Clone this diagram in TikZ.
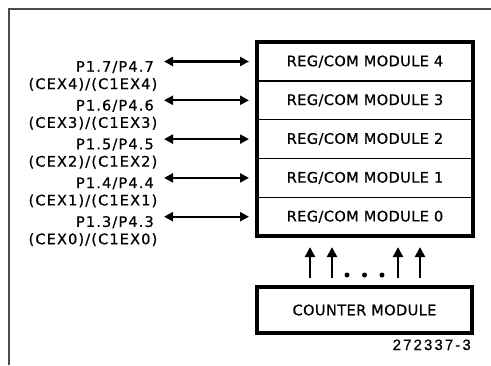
\documentclass[tikz,border=0pt]{standalone}
\usepackage{fontspec}
\setmainfont{DejaVu Sans}
\newfontfamily\modfont{DejaVu Sans}[LetterSpace=3,FakeBold=0.7]
\newfontfamily\pinfont{DejaVu Sans}[LetterSpace=8,FakeBold=0.7]
\newfontfamily\fignofont{Liberation Sans}[LetterSpace=14,FakeBold=0.5]
\usepackage{tikz}
\usetikzlibrary{positioning}
\usetikzlibrary{arrows.meta}

\begin{document}
\begin{tikzpicture}[
x=1pt, y=-1pt,
node distance = 0pt,
>={Triangle[length=9pt,width=9pt]},
module/.style={rectangle, draw, line width=1.2pt, minimum width=216pt, minimum height=38.8pt,
  inner sep=0pt, outer sep=0pt, font=\modfont\fontsize{14.5}{16}\selectfont},
counter/.style={rectangle, draw, line width=3.5pt, minimum width=215pt, minimum height=46pt,
  inner sep=0pt, outer sep=0pt, font=\modfont\fontsize{14.5}{16}\selectfont},
pin/.style={inner sep=0pt, anchor=base east, font=\pinfont\fontsize{14.5}{16}\selectfont},
ioline/.style={<->, line width=2.2pt, shorten <=10pt, shorten >=8pt},
upline/.style={->, line width=2.6pt, >={Triangle[length=10pt,width=10pt]}, shorten <=9pt, shorten >=11pt}]
\useasboundingbox (0,0) rectangle (491,365);
% frame
\draw [black!70, line width=2pt] (8.5,365) -- (8.5,8.5) -- (491,8.5);

% module stack
\node [module] (mod4) at (365,61.5) {REG/COM MODULE 4};
\node [module] (mod3) [below=of mod4] {REG/COM MODULE 3};
\node [module] (mod2) [below=of mod3] {REG/COM MODULE 2};
\node [module] (mod1) [below=of mod2] {REG/COM MODULE 1};
\node [module] (mod0) [below=of mod1] {REG/COM MODULE 0};
\draw [line width=3.5pt] (mod4.north west) rectangle (mod0.south east);

% port pins
\node [pin] (p4) at (154,71.7) {P1.7/P4.7};
\node [pin] (c4) at (157.5,89) {(CEX4)/(C1EX4)};
\node [pin] (p3) at (154,110.5) {P1.6/P4.6};
\node [pin] (c3) at (157.5,127.8) {(CEX3)/(C1EX3)};
\node [pin] (p2) at (154,149.3) {P1.5/P4.5};
\node [pin] (c2) at (157.5,166.6) {(CEX2)/(C1EX2)};
\node [pin] (p1) at (154,188.1) {P1.4/P4.4};
\node [pin] (c1) at (157.5,205.4) {(CEX1)/(C1EX1)};
\node [pin] (p0) at (154,226.9) {P1.3/P4.3};
\node [pin] (c0) at (157.5,244.2) {(CEX0)/(C1EX0)};
\draw [ioline] (p4.east |- mod4.west) -- (mod4.west);
\draw [ioline] (p3.east |- mod3.west) -- (mod3.west);
\draw [ioline] (p2.east |- mod2.west) -- (mod2.west);
\draw [ioline] (p1.east |- mod1.west) -- (mod1.west);
\draw [ioline] (p0.east |- mod0.west) -- (mod0.west);

% counter module
\node [counter] (cnt) at (364.5,310) {COUNTER MODULE};
\draw [upline] ([xshift=-54.5pt]cnt.north) -- ([xshift=-54.5pt]cnt.north |- mod0.south);
\draw [upline] ([xshift=-32.5pt]cnt.north) -- ([xshift=-32.5pt]cnt.north |- mod0.south);
\draw [upline] ([xshift=33.5pt]cnt.north) -- ([xshift=33.5pt]cnt.north |- mod0.south);
\draw [upline] ([xshift=55.5pt]cnt.north) -- ([xshift=55.5pt]cnt.north |- mod0.south);
\fill (347,275) circle (2.5pt) (364.5,275) circle (2.5pt) (382,275) circle (2.5pt);

\node [inner sep=0pt, anchor=base east, font=\fignofont\fontsize{15}{17}\selectfont] (figno) at (471,350) {272337-3};
\end{tikzpicture}
\end{document}
